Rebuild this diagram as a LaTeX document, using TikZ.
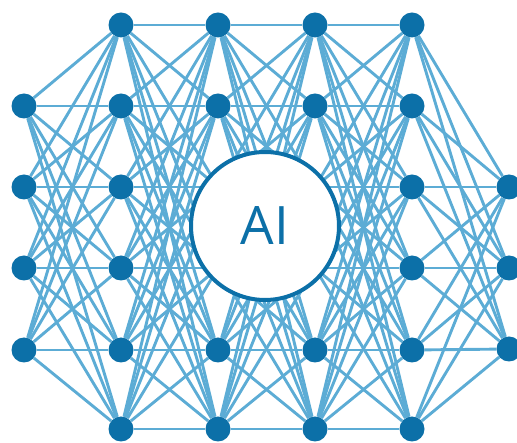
\documentclass[tikz,border=0pt]{standalone}
\usepackage{fontspec}
\newfontfamily\aifont{Open Sans}
\usetikzlibrary{backgrounds}
\definecolor{nodeblue}{RGB}{12,112,168}
\definecolor{edgeblue}{RGB}{92,172,213}
\tikzset{
  neuron/.style={circle, fill=nodeblue, minimum size=25pt, inner sep=0pt},
  link/.style={draw=edgeblue, line width=2.9pt},
  aicircle/.style={circle, draw=nodeblue, line width=4pt, fill=white, minimum size=148pt, inner sep=0pt, text=nodeblue}
}
\begin{document}
\begin{tikzpicture}[x=1pt,y=-1pt]
\useasboundingbox (0,0) rectangle (517,443);
% column 0
\foreach \r/\y in {1/106,2/187,3/268,4/350} \node[neuron] (n0\r) at (24,\y) {};
% column 1
\foreach \r/\y in {0/25,1/106,2/187,3/268,4/350,5/429} \node[neuron] (n1\r) at (121,\y) {};
% column 2
\foreach \r/\y in {0/25,1/106,4/350,5/429} \node[neuron] (n2\r) at (218,\y) {};
\coordinate (n22) at (218,187); \coordinate (n23) at (218,268);
% column 3
\foreach \r/\y in {0/25,1/106,4/350,5/429} \node[neuron] (n3\r) at (315,\y) {};
\coordinate (n32) at (315,187); \coordinate (n33) at (315,268);
% column 4
\foreach \r/\y in {0/25,1/106,2/187,3/268,4/350,5/429} \node[neuron] (n4\r) at (412,\y) {};
% column 5
\foreach \r/\y in {2/187,3/268,4/349} \node[neuron] (n5\r) at (509,\y) {};
% centre
\node[aicircle] (ai) at (265,226) {\aifont\fontsize{53}{53}\selectfont AI};
% connections
\begin{scope}[on background layer]
\foreach \a in {1,...,4} \foreach \b in {0,...,5} \draw[link] (n0\a) -- (n1\b);
\foreach \a in {0,...,5} \foreach \b in {0,...,5} {
  \draw[link] (n1\a) -- (n2\b);
  \draw[link] (n2\a) -- (n3\b);
  \draw[link] (n3\a) -- (n4\b);
}
\foreach \a in {0,...,5} \foreach \b in {2,3,4} \draw[link] (n4\a) -- (n5\b);
\end{scope}
\end{tikzpicture}
\end{document}
